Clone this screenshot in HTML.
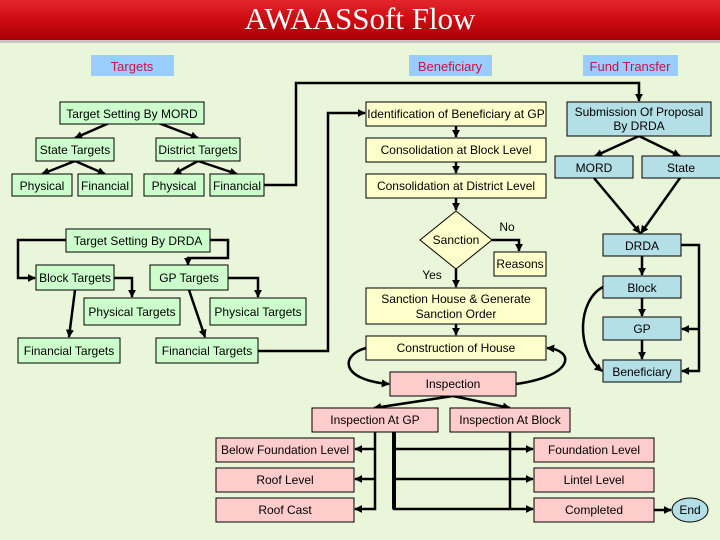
<!DOCTYPE html>
<html><head><meta charset="utf-8"><style>
html,body{margin:0;padding:0;width:720px;height:540px;overflow:hidden;background:#eaf6d9}
svg{display:block}
text{font-family:"Liberation Sans",sans-serif;font-size:12px;fill:#000}
.g{fill:#ccffcc;stroke:#000;stroke-width:1}
.y{fill:#ffffcc;stroke:#000;stroke-width:1}
.b{fill:#b4dfe6;stroke:#000;stroke-width:1}
.p{fill:#ffcccc;stroke:#000;stroke-width:1}
.h{fill:#99ccff}
.l{stroke:#000;stroke-width:2.5;fill:none}
.lb{font-size:13px;fill:#cc1144}
</style></head><body>
<svg width="720" height="540" viewBox="0 0 720 540" xmlns="http://www.w3.org/2000/svg">
<defs>
<linearGradient id="tg" x1="0" y1="0" x2="0" y2="1">
<stop offset="0" stop-color="#e4262c"/><stop offset="0.5" stop-color="#cc0a10"/><stop offset="1" stop-color="#a60008"/>
</linearGradient>
<marker id="a" viewBox="0 0 10 10" refX="9" refY="5" markerWidth="3.2" markerHeight="3.2" orient="auto"><path d="M0,0L10,5L0,10z" fill="#000"/></marker>
</defs>
<rect x="0" y="0" width="720" height="540" fill="#eaf6d9"/>
<rect x="0" y="0" width="720" height="41" fill="url(#tg)"/>
<rect x="0" y="40" width="720" height="3" fill="#c8c8c8"/>
<text x="360" y="29" text-anchor="middle" style="font-family:'Liberation Serif',serif;font-size:31px;fill:#fff">AWAASSoft Flow</text>

<!-- headers -->
<rect class="h" x="91" y="55" width="83" height="21"/><text class="lb" x="132" y="71" text-anchor="middle">Targets</text>
<rect class="h" x="409" y="55" width="83" height="21"/><text class="lb" x="450" y="71" text-anchor="middle">Beneficiary</text>
<rect class="h" x="583" y="55" width="95" height="21"/><text class="lb" x="630" y="71" text-anchor="middle">Fund Transfer</text>

<!-- connectors -->
<g class="l" marker-end="url(#a)">
<path d="M264,185H296V83H639V101"/>
<path d="M258,351H328V113H365"/>
<path d="M132,113L75,138"/><path d="M132,113L198,138"/>
<path d="M75,161L42,174"/><path d="M75,161L105,174"/>
<path d="M198,161L174,174"/><path d="M198,161L237,174"/>
<path d="M66,240H18V278H35"/>
<path d="M210,240H228V258H188V265"/>
<path d="M114,278H132V297"/>
<path d="M228,278H258V297"/>
<path d="M75,290L69,337"/>
<path d="M189,290L205,337"/>
<path d="M456,126V137"/><path d="M456,162V173"/><path d="M456,198V210"/>
<path d="M492,240H519V251"/>
<path d="M456,269V287"/><path d="M456,324V335"/>
<path d="M639,136L595,156"/><path d="M639,136L680,156"/>
<path d="M594,178L640,233"/><path d="M680,178L641,233"/>
<path d="M642,256V275"/><path d="M642,298V316"/><path d="M642,340V359"/>
<path d="M681,245H699V371H682"/>
<path d="M699,329H682"/>
<path d="M603,287C578,300 575,350 602,371"/>
<path d="M366,348C340,355 340,380 389,384"/>
<path d="M516,384C575,376 575,350 547,348"/>
<path d="M453,396L374,408"/><path d="M453,396L510,408"/>
<path d="M375,449H355"/><path d="M375,479H355"/>
<path d="M375,432V509H355"/>
<path d="M394,449H533"/><path d="M394,479H533"/>
<path d="M394,432V509H533"/>
<path d="M654,510H671"/>
</g>
<path d="M510,432V509" class="l"/>
<path d="M394,432V509" style="stroke:#000;stroke-width:4;fill:none"/>

<!-- targets -->
<rect class="g" x="60" y="102" width="144" height="22"/><text x="132" y="118" text-anchor="middle">Target Setting By MORD</text>
<rect class="g" x="36" y="138" width="78" height="23"/><text x="75" y="154" text-anchor="middle">State Targets</text>
<rect class="g" x="156" y="138" width="84" height="23"/><text x="198" y="154" text-anchor="middle">District Targets</text>
<rect class="g" x="12" y="174" width="60" height="22"/><text x="42" y="190" text-anchor="middle">Physical</text>
<rect class="g" x="78" y="174" width="54" height="22"/><text x="105" y="190" text-anchor="middle">Financial</text>
<rect class="g" x="144" y="174" width="60" height="22"/><text x="174" y="190" text-anchor="middle">Physical</text>
<rect class="g" x="210" y="174" width="54" height="22"/><text x="237" y="190" text-anchor="middle">Financial</text>
<rect class="g" x="66" y="229" width="144" height="23"/><text x="138" y="245" text-anchor="middle">Target Setting By DRDA</text>
<rect class="g" x="36" y="265" width="78" height="25"/><text x="75" y="282" text-anchor="middle">Block Targets</text>
<rect class="g" x="150" y="265" width="78" height="25"/><text x="189" y="282" text-anchor="middle">GP Targets</text>
<rect class="g" x="84" y="298" width="96" height="27"/><text x="132" y="316" text-anchor="middle">Physical Targets</text>
<rect class="g" x="210" y="298" width="96" height="27"/><text x="258" y="316" text-anchor="middle">Physical Targets</text>
<rect class="g" x="18" y="338" width="102" height="25"/><text x="69" y="355" text-anchor="middle">Financial Targets</text>
<rect class="g" x="156" y="338" width="102" height="25"/><text x="207" y="355" text-anchor="middle">Financial Targets</text>

<!-- beneficiary -->
<rect class="y" x="366" y="102" width="180" height="24"/><text x="456" y="118" text-anchor="middle">Identification of Beneficiary at GP</text>
<rect class="y" x="366" y="138" width="180" height="24"/><text x="456" y="154" text-anchor="middle">Consolidation at Block Level</text>
<rect class="y" x="366" y="174" width="180" height="24"/><text x="456" y="190" text-anchor="middle">Consolidation at District Level</text>
<path class="y" d="M456,211L492,240L456,269L420,240z"/><text x="456" y="244" text-anchor="middle">Sanction</text>
<text x="507" y="231" text-anchor="middle">No</text>
<text x="432" y="279" text-anchor="middle">Yes</text>
<rect class="y" x="494" y="252" width="52" height="24"/><text x="520" y="268" text-anchor="middle">Reasons</text>
<rect class="y" x="366" y="288" width="180" height="36"/><text x="456" y="303" text-anchor="middle">Sanction House &amp; Generate</text><text x="456" y="318" text-anchor="middle">Sanction Order</text>
<rect class="y" x="366" y="336" width="180" height="24"/><text x="456" y="352" text-anchor="middle">Construction of House</text>

<!-- fund -->
<rect class="b" x="567" y="102" width="144" height="34"/><text x="639" y="116" text-anchor="middle">Submission Of Proposal</text><text x="639" y="130" text-anchor="middle">By DRDA</text>
<rect class="b" x="555" y="156" width="78" height="22"/><text x="594" y="172" text-anchor="middle">MORD</text>
<rect class="b" x="642" y="156" width="80" height="22"/><text x="681" y="172" text-anchor="middle">State</text>
<rect class="b" x="603" y="234" width="78" height="22"/><text x="642" y="250" text-anchor="middle">DRDA</text>
<rect class="b" x="603" y="276" width="78" height="22"/><text x="642" y="292" text-anchor="middle">Block</text>
<rect class="b" x="603" y="317" width="78" height="23"/><text x="642" y="333" text-anchor="middle">GP</text>
<rect class="b" x="603" y="360" width="78" height="22"/><text x="642" y="376" text-anchor="middle">Beneficiary</text>

<!-- inspection -->
<rect class="p" x="390" y="372" width="126" height="24"/><text x="453" y="388" text-anchor="middle">Inspection</text>
<rect class="p" x="312" y="408" width="126" height="24"/><text x="375" y="424" text-anchor="middle">Inspection At GP</text>
<rect class="p" x="450" y="408" width="120" height="24"/><text x="510" y="424" text-anchor="middle">Inspection At Block</text>
<rect class="p" x="216" y="438" width="138" height="24"/><text x="285" y="454" text-anchor="middle">Below Foundation Level</text>
<rect class="p" x="216" y="468" width="138" height="24"/><text x="285" y="484" text-anchor="middle">Roof Level</text>
<rect class="p" x="216" y="498" width="138" height="24"/><text x="285" y="514" text-anchor="middle">Roof Cast</text>
<rect class="p" x="534" y="438" width="120" height="24"/><text x="594" y="454" text-anchor="middle">Foundation Level</text>
<rect class="p" x="534" y="468" width="120" height="24"/><text x="594" y="484" text-anchor="middle">Lintel Level</text>
<rect class="p" x="534" y="498" width="120" height="24"/><text x="594" y="514" text-anchor="middle">Completed</text>
<ellipse class="b" cx="690" cy="510" rx="18" ry="12"/><text x="690" y="514" text-anchor="middle">End</text>
</svg>
</body></html>
